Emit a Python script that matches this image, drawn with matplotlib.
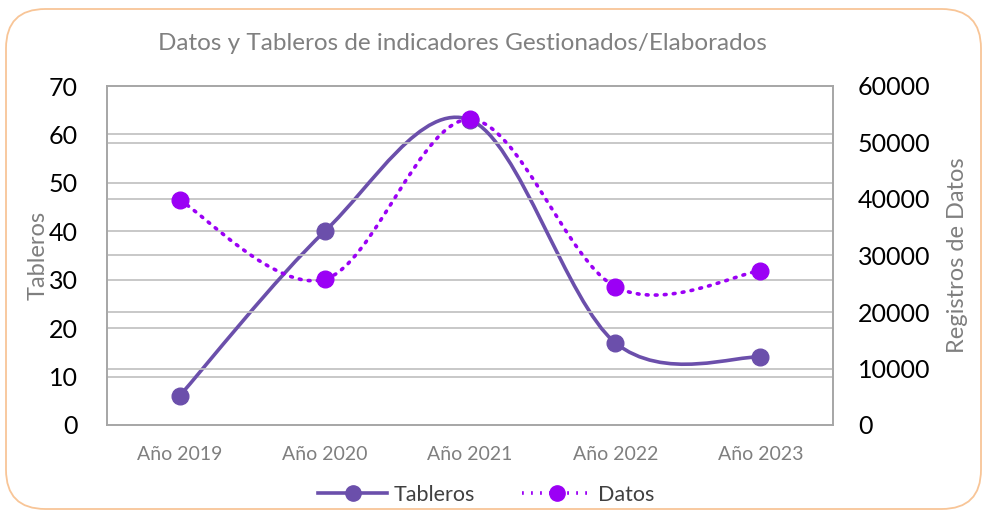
import matplotlib
matplotlib.use("Agg")
import matplotlib.pyplot as plt
from matplotlib.path import Path
from matplotlib.patches import PathPatch, FancyBboxPatch
from matplotlib.lines import Line2D
import numpy as np

categories = ["Año 2019", "Año 2020", "Año 2021", "Año 2022", "Año 2023"]
tableros = [6, 40, 63, 17, 14]
datos = [39800, 25800, 54100, 24500, 27300]
left_ticks = [0, 10, 20, 30, 40, 50, 60, 70]
right_ticks = [0, 10000, 20000, 30000, 40000, 50000, 60000]

plt.rcParams['font.family'] = ['Lato', 'DejaVu Sans']

fig = plt.figure(figsize=(9.84, 5.15), dpi=100)
fig.patch.set_facecolor("white")

# rounded border
border = FancyBboxPatch((6/984, 6/515), 975/984, 500/515,
                        boxstyle="round,pad=0,rounding_size=0.04",
                        transform=fig.transFigure, facecolor="none",
                        edgecolor="#F8C597", linewidth=1.3, mutation_aspect=984/515,
                        zorder=-1)
fig.patches.append(border)

ax = fig.add_axes([107/984, 1 - 425/515, (833-107)/984, (425-86)/515])
ax2 = ax.twinx()
ax.set_facecolor("none")

ax.set_xlim(-0.5, 4.5)
ax.set_ylim(0, 70)
ax2.set_ylim(0, 60000)

grid_c = "#BFBFBF"
for v in left_ticks[1:-1]:
    ax.axhline(v, color=grid_c, lw=1.2, zorder=1)
for v in right_ticks[1:-1]:
    ax2.axhline(v, color=grid_c, lw=1.2, zorder=1)

for a in (ax, ax2):
    for s in a.spines.values():
        s.set_color("#A6A6A6")
        s.set_linewidth(1.2)

def smooth_path(xs, ys):
    pts = np.column_stack([xs, ys]).astype(float)
    n = len(pts)
    verts = [pts[0]]
    codes = [Path.MOVETO]
    for i in range(n - 1):
        p0 = pts[i - 1] if i > 0 else pts[i]
        p1 = pts[i]
        p2 = pts[i + 1]
        p3 = pts[i + 2] if i + 2 < n else pts[i + 1]
        c1 = p1 + (p2 - p0) / 6
        c2 = p2 - (p3 - p1) / 6
        verts += [c1, c2, p2]
        codes += [Path.CURVE4] * 3
    return Path(verts, codes)

x = np.arange(len(categories))
c_tab = "#6B4FAB"
c_dat = "#9B00F5"
dot_style = (0, (0.5, 2.0))

ax.add_patch(PathPatch(smooth_path(x, tableros), facecolor="none", edgecolor=c_tab,
                       lw=2.6, zorder=3, capstyle="round"))
ax.plot(x, tableros, ls="none", marker="o", ms=12, color=c_tab, zorder=4)

ax2.add_patch(PathPatch(smooth_path(x, datos), facecolor="none", edgecolor=c_dat,
                        lw=2.6, ls=dot_style, zorder=3, capstyle="round"))
ax2.plot(x, datos, ls="none", marker="o", ms=12, color=c_dat, zorder=4)

ax.set_xticks(x)
ax.set_xticklabels(categories, color="#7F7F7F", fontsize=14)
ax.tick_params(axis="x", length=0, pad=15)
ax.set_yticks(left_ticks)
ax.set_yticklabels([str(v) for v in left_ticks], fontsize=18, color="black")
ax.tick_params(axis="y", length=0, pad=21)
ax2.set_yticks(right_ticks)
ax2.set_yticklabels([str(v) for v in right_ticks], fontsize=18, color="black")
ax2.tick_params(axis="y", length=0, pad=18)

ax.set_ylabel("Tableros", fontsize=17, color="#7F7F7F", labelpad=0)
ax2.set_ylabel("Registros de Datos", fontsize=17, color="#7F7F7F", labelpad=12)

fig.text(462/984, 1 - 44/515, "Datos y Tableros de indicadores Gestionados/Elaborados",
         ha="center", va="center", fontsize=17.5, color="#808080")

h1 = Line2D([], [], color=c_tab, lw=2.6, marker="o", ms=11)
h2 = Line2D([], [], color=c_dat, lw=2.6, ls=dot_style, marker="o", ms=11)
fig.legend([h1, h2], ["Tableros", "Datos"], loc="center", bbox_to_anchor=(486/984, 1 - 495/515),
           ncol=2, frameon=False, fontsize=15.5, handlelength=3.2, handletextpad=0.3,
           columnspacing=2.2, labelcolor="#404040")

fig.savefig("out.png", dpi=100)
